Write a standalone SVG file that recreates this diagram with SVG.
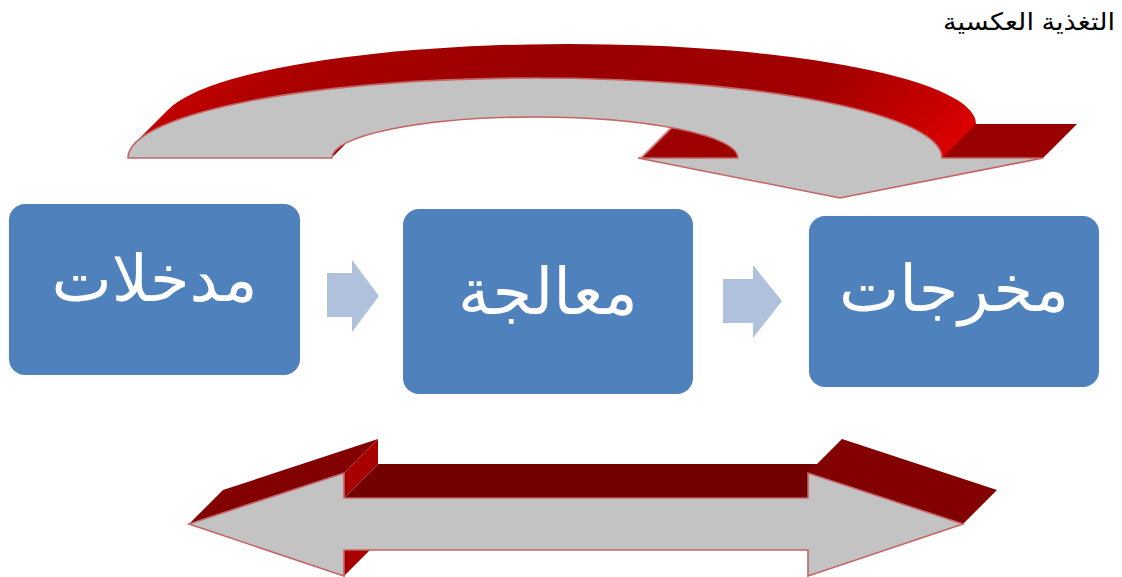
<svg xmlns="http://www.w3.org/2000/svg" xmlns:xlink="http://www.w3.org/1999/xlink" width="1122" height="577" viewBox="0 0 1122 577">
  <style>
    .box { fill: #4f81bd; }
    .box-label { fill: #ffffff; font-family: "Liberation Sans", "DejaVu Sans", sans-serif; font-size: 64px; text-anchor: middle; }
    .flow { fill: #b0c1dc; }
    .face { fill: #c3c3c3; stroke: #c46464; stroke-width: 1.6; stroke-linejoin: miter; }
    .caption { fill: #000000; font-family: "Liberation Sans", "DejaVu Sans", sans-serif; font-size: 24px; text-anchor: middle; }
  </style>
  <defs>
    <!-- curved feedback arrow outline: outer arc, arrow head, inner arc -->
    <path id="curveShape" d="M128,158 A407,80 0 0 1 942,158 L1043,158 L840,198 L638,158 L738,158 A203,41 0 0 0 332,158 Z"/>
    <linearGradient id="curveDepth" gradientUnits="userSpaceOnUse" x1="128" y1="0" x2="976" y2="0">
      <stop offset="0" stop-color="#c40000"/>
      <stop offset="0.2" stop-color="#a80000"/>
      <stop offset="0.5" stop-color="#990000"/>
      <stop offset="0.8" stop-color="#a20000"/>
      <stop offset="0.93" stop-color="#c80000"/>
      <stop offset="0.97" stop-color="#e00000"/>
      <stop offset="1" stop-color="#ea0000"/>
    </linearGradient>
  </defs>

  <!-- caption -->
  <text class="caption" x="1029" y="30" textLength="172" lengthAdjust="spacingAndGlyphs">التغذية العكسية</text>

  <!-- curved 3D arrow across the top -->
  <g id="feedback-arrow">
    <g fill="url(#curveDepth)">
      <use xlink:href="#curveShape" x="34" y="-34"/>
      <use xlink:href="#curveShape" x="33" y="-33"/>
      <use xlink:href="#curveShape" x="32" y="-32"/>
      <use xlink:href="#curveShape" x="31" y="-31"/>
      <use xlink:href="#curveShape" x="30" y="-30"/>
      <use xlink:href="#curveShape" x="29" y="-29"/>
      <use xlink:href="#curveShape" x="28" y="-28"/>
      <use xlink:href="#curveShape" x="27" y="-27"/>
      <use xlink:href="#curveShape" x="26" y="-26"/>
      <use xlink:href="#curveShape" x="25" y="-25"/>
      <use xlink:href="#curveShape" x="24" y="-24"/>
      <use xlink:href="#curveShape" x="23" y="-23"/>
      <use xlink:href="#curveShape" x="22" y="-22"/>
      <use xlink:href="#curveShape" x="21" y="-21"/>
      <use xlink:href="#curveShape" x="20" y="-20"/>
      <use xlink:href="#curveShape" x="19" y="-19"/>
      <use xlink:href="#curveShape" x="18" y="-18"/>
      <use xlink:href="#curveShape" x="17" y="-17"/>
      <use xlink:href="#curveShape" x="16" y="-16"/>
      <use xlink:href="#curveShape" x="15" y="-15"/>
      <use xlink:href="#curveShape" x="14" y="-14"/>
      <use xlink:href="#curveShape" x="13" y="-13"/>
      <use xlink:href="#curveShape" x="12" y="-12"/>
      <use xlink:href="#curveShape" x="11" y="-11"/>
      <use xlink:href="#curveShape" x="10" y="-10"/>
      <use xlink:href="#curveShape" x="9" y="-9"/>
      <use xlink:href="#curveShape" x="8" y="-8"/>
      <use xlink:href="#curveShape" x="7" y="-7"/>
      <use xlink:href="#curveShape" x="6" y="-6"/>
      <use xlink:href="#curveShape" x="5" y="-5"/>
      <use xlink:href="#curveShape" x="4" y="-4"/>
      <use xlink:href="#curveShape" x="3" y="-3"/>
      <use xlink:href="#curveShape" x="2" y="-2"/>
      <use xlink:href="#curveShape" x="1" y="-1"/>
    </g>
    <!-- side of the arrow head -->
    <polygon points="942,158 1043,158 1077,124 976,124" fill="#990000"/>
    <use xlink:href="#curveShape" class="face"/>
  </g>

  <!-- double-headed 3D arrow along the bottom -->
  <g id="double-arrow">
    <polygon points="344,498 808,498 842,464 378,464" fill="#720000"/>
    <polygon points="344,473 344,498 378,464 378,439" fill="#a80000"/>
    <polygon points="344,550 344,576 378,542 378,516" fill="#a80000"/>
    <polygon points="189,524 344,473 378,439 223,490" fill="#820000"/>
    <polygon points="808,473 963,524 997,490 842,439" fill="#820000"/>
    <polygon class="face" points="189,524 344,473 344,498 808,498 808,473 963,524 808,576 808,550 344,550 344,576"/>
  </g>

  <!-- flow arrows between the stages -->
  <g id="connectors">
    <polygon class="flow" points="327,273 352,273 352,260 379,296 352,332 352,317 327,317"/>
    <polygon class="flow" points="723,279 753,279 753,265 782,301 753,338 753,323 723,323"/>
  </g>

  <g id="node-inputs">
    <rect class="box" x="9" y="204" width="291" height="171" rx="16"/>
    <text class="box-label" x="154.5" y="301">مدخلات</text>
  </g>

  <g id="node-processing">
    <rect class="box" x="403" y="209" width="290" height="185" rx="16"/>
    <text class="box-label" x="548" y="314">معالجة</text>
  </g>

  <g id="node-outputs">
    <rect class="box" x="809" y="216" width="290" height="171" rx="16"/>
    <text class="box-label" x="954" y="311">مخرجات</text>
  </g>
</svg>
